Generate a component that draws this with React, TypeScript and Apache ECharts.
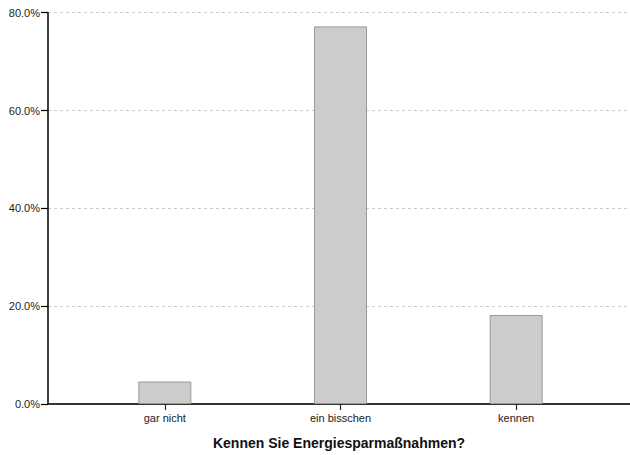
import React, { useEffect, useRef } from "react";
import * as echarts from "echarts";

const categories = ["gar nicht", "ein bisschen", "kennen"];
const percentValues = [4.6, 77.2, 18.2];
const yTicks = [0, 20, 40, 60, 80];
const xTitle = "Kennen Sie Energiesparmaßnahmen?";

export default function App() {
  const ref = useRef<HTMLDivElement>(null);
  useEffect(() => {
    document.body.style.margin = "0";
    const chart = echarts.init(ref.current!, null, { renderer: "svg" });
    const positions = categories.map((_, i) => i + 1);
    chart.setOption({
      animation: false,
      backgroundColor: "#ffffff",
      textStyle: { fontFamily: "Liberation Sans, Arial, sans-serif" },
      grid: { left: 48, right: 0, top: 12.7, bottom: 48.5, containLabel: false },
      xAxis: {
        type: "value",
        min: 0.335,
        max: 3.648,
        splitLine: { show: false },
        axisLine: { show: true, lineStyle: { color: "#333333", width: 2 } },
        axisTick: {
          show: true,
          customValues: positions,
          length: 6,
          lineStyle: { color: "#222222", width: 1.2 },
        },
        axisLabel: {
          customValues: positions,
          formatter: (v: number) => categories[Math.round(v) - 1] ?? "",
          color: "#222222",
          fontSize: 11,
          margin: 8,
          fontFamily: "Liberation Sans, Arial, sans-serif",
        },
        name: xTitle,
        nameLocation: "middle",
        nameGap: 32,
        nameTextStyle: {
          fontSize: 14,
          fontWeight: "bold",
          color: "#111111",
          fontFamily: "Liberation Sans, Arial, sans-serif",
        },
      },
      yAxis: {
        type: "value",
        min: 0,
        max: 80,
        interval: 20,
        axisLine: { show: true, lineStyle: { color: "#000000", width: 1.5 } },
        axisTick: { show: true, length: 7, lineStyle: { color: "#000000", width: 1.2 } },
        axisLabel: {
          formatter: (v: number) => (yTicks.includes(v) ? v.toFixed(1) + "%" : ""),
          color: "#222222",
          fontSize: 11,
          margin: 8,
          fontFamily: "Liberation Sans, Arial, sans-serif",
        },
        splitLine: {
          show: true,
          lineStyle: { color: "#cccccc", type: [3, 3], width: 1 },
        },
      },
      series: [
        {
          type: "bar",
          barWidth: 53,
          data: percentValues.map((v, i) => [positions[i], v]),
          itemStyle: { color: "#cccccc", borderColor: "#999999", borderWidth: 1 },
        },
      ],
    });
    return () => chart.dispose();
  }, []);
  return <div ref={ref} style={{ width: 630, height: 455 }} />;
}
